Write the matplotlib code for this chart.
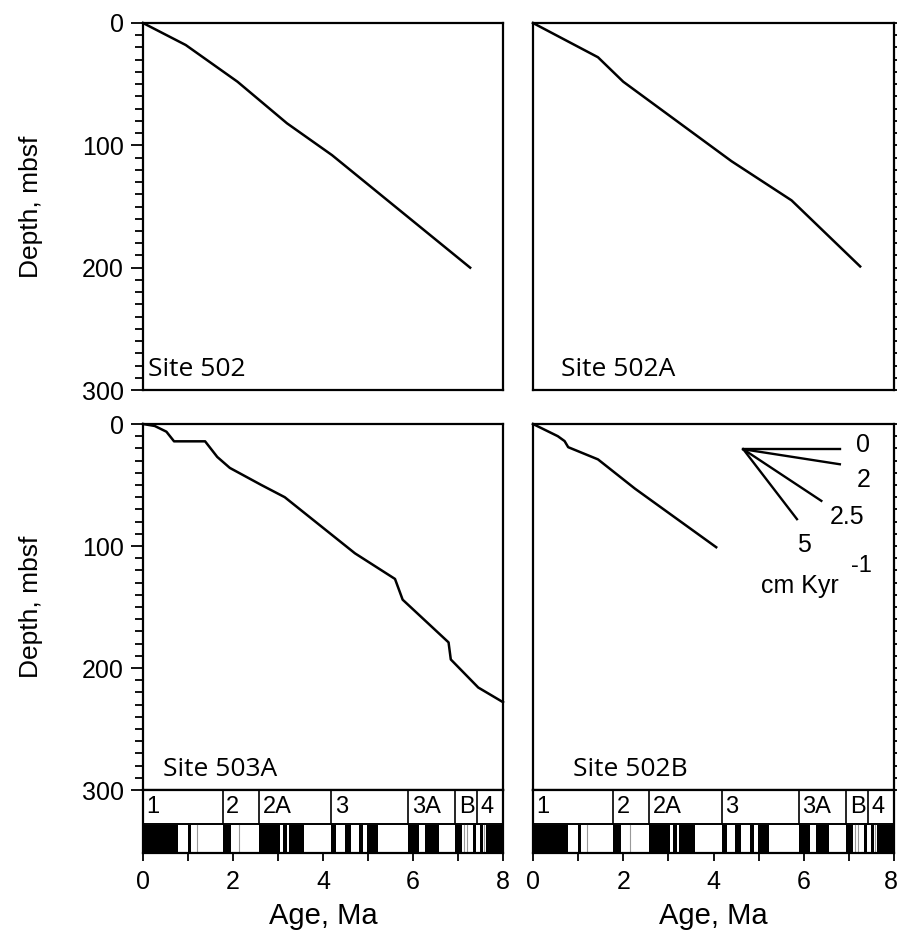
import matplotlib
matplotlib.use("Agg")
import matplotlib.pyplot as plt
from matplotlib.ticker import MultipleLocator

plt.rcParams['font.family'] = ['Liberation Sans', 'DejaVu Sans']

# age (Ma) / depth (mbsf) curves
age_502 = [0, 0.95, 2.1, 3.2, 4.2, 7.27]
depth_502 = [0, 18, 48, 82, 108, 200]

age_502a = [0, 1.44, 2.0, 4.4, 5.73, 7.25]
depth_502a = [0, 28, 48, 113, 145, 199]

age_503a = [0, 0.26, 0.52, 0.69, 1.38, 1.65, 1.93, 2.63, 3.15, 4.71, 5.6, 5.77,
            6.79, 6.84, 7.45, 8.0]
depth_503a = [0, 1.6, 6.3, 14.2, 14.2, 27, 36, 50, 60, 106, 127, 144,
              179, 193, 216, 228]

age_502b = [0, 0.55, 0.7, 0.78, 1.44, 2.26, 4.06]
depth_502b = [0, 10, 14, 19, 29, 53, 101]

# sedimentation-rate fan (lower right panel)
fan_origin = (4.66, 20.7)
fan_end_age = [6.8, 6.8, 6.39, 5.85]
fan_end_depth = [20.7, 33, 63, 78]
fan_labels = ['0', '2', '2.5', '5']
fan_label_age = [7.32, 7.32, 6.96, 6.0]
fan_label_depth = [17, 46, 76, 99]

# magnetic polarity: chron boxes and normal-polarity intervals
chron_edges = [0, 1.77, 2.58, 4.18, 5.89, 6.94, 7.43, 8.0]
chron_names = ['1', '2', '2A', '3', '3A', 'B', '4']
normal_start = [0, 0.99, 1.77, 2.58, 3.11, 3.24, 4.18, 4.48, 4.80, 4.98,
                5.89, 6.27, 6.94, 7.34, 7.49, 7.62]
normal_end = [0.78, 1.07, 1.95, 3.04, 3.19, 3.58, 4.29, 4.62, 4.89, 5.23,
              6.14, 6.57, 7.09, 7.40, 7.55, 8.0]
cryptochrons = [1.19, 2.14, 7.14, 7.21, 7.57]

age_ticks = [0, 2, 4, 6, 8]

W, H = 897, 939
fig = plt.figure(figsize=(W / 100, H / 100), dpi=100)


def rect(x0, y0, x1, y1):
    return [x0 / W, 1 - y1 / H, (x1 - x0) / W, (y1 - y0) / H]


def depth_axes(r, side):
    ax = fig.add_axes(r)
    ax.set_xlim(0, 8)
    ax.set_ylim(300, 0)
    ax.set_xticks([])
    ax.yaxis.set_major_locator(MultipleLocator(100))
    ax.yaxis.set_minor_locator(MultipleLocator(10))
    ax.tick_params(axis='y', which='major', length=9, width=1.3, labelsize=18, pad=5)
    ax.tick_params(axis='y', which='minor', length=5.5, width=1.3)
    if side == 'right':
        ax.yaxis.tick_right()
        ax.tick_params(axis='y', which='both', labelright=False)
    for s in ax.spines.values():
        s.set_linewidth(1.6)
    return ax


def polarity_strip(r, last_inside=False):
    ax = fig.add_axes(r)
    ax.set_xlim(0, 8)
    ax.set_ylim(0, 1)
    ax.set_yticks([])
    labels = [str(t) for t in age_ticks]
    if last_inside:
        labels[-1] = ''
    ax.set_xticks(age_ticks, labels)
    ax.xaxis.set_minor_locator(MultipleLocator(1))
    ax.tick_params(axis='x', which='both', length=6, width=1.3, labelsize=18, pad=6)
    if last_inside:
        # last age label pulled left so it stays on the page
        ax.annotate(str(age_ticks[-1]), (age_ticks[-1], 0), xytext=(3, -12),
                    textcoords='offset points', ha='right', va='top', fontsize=18)
    for s in ax.spines.values():
        s.set_linewidth(1.6)
    ax.axhline(0.46, color='black', lw=1.4)
    spans = [(a, b - a) for a, b in zip(normal_start, normal_end)]
    ax.broken_barh(spans, (0.02, 0.42), facecolors='black')
    for c in cryptochrons:
        ax.plot([c, c], [0.02, 0.44], color='0.6', lw=0.8)
    for e in chron_edges[1:-1]:
        ax.plot([e, e], [0.46, 1], color='black', lw=1.2)
    for e, name in zip(chron_edges[:-1], chron_names):
        ax.text(e + 0.08, 0.73, name, fontsize=17, ha='left', va='center')
    ax.set_xlabel('Age, Ma', fontsize=21, labelpad=6)
    return ax


ax1 = depth_axes(rect(143, 23, 503, 390), 'left')
ax2 = depth_axes(rect(533, 23, 894, 390), 'right')
ax3 = depth_axes(rect(143, 424, 503, 790), 'left')
ax4 = depth_axes(rect(533, 424, 894, 790), 'right')
ax1.set_yticks([0, 100, 200, 300])
ax3.set_yticks([0, 100, 200, 300])

for ax, a, d, name, lx in [(ax1, age_502, depth_502, 'Site 502', 0.1),
                           (ax2, age_502a, depth_502a, 'Site 502A', 0.62),
                           (ax3, age_503a, depth_503a, 'Site 503A', 0.44),
                           (ax4, age_502b, depth_502b, 'Site 502B', 0.89)]:
    ax.plot(a, d, color='black', lw=1.8, clip_on=False)
    ax.text(lx, 283, name, fontsize=19, family='Open Sans', ha='left', va='center')

ax1.set_ylabel('Depth, mbsf', fontsize=19, labelpad=28)
ax3.set_ylabel('Depth, mbsf', fontsize=19, labelpad=28)

for ea, ed, lab, la, ld in zip(fan_end_age, fan_end_depth, fan_labels,
                               fan_label_age, fan_label_depth):
    ax4.plot([fan_origin[0], ea], [fan_origin[1], ed], color='black', lw=1.7)
    ax4.text(la, ld, lab, fontsize=18, ha='center', va='center')
ax4.text(7.05, 116, '-1', fontsize=17, ha='left', va='center')
ax4.text(5.92, 133, 'cm Kyr', fontsize=18, ha='center', va='center')

polarity_strip(rect(143, 790, 503, 853))
polarity_strip(rect(533, 790, 894, 853), last_inside=True)

fig.savefig('out.png', dpi=100)
